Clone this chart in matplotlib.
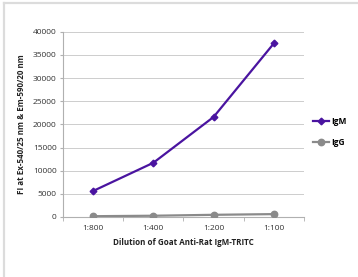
import matplotlib.pyplot as plt
import matplotlib
from matplotlib.lines import Line2D

matplotlib.rcParams['font.family'] = ['Open Sans', 'DejaVu Sans']

# 数据
dilutions = ['1:800', '1:400', '1:200', '1:100']
igm = [5600, 11700, 21600, 37500]
igg = [150, 250, 450, 600]

purple = '#4a14a0'
grey = '#8a8a8a'

fig = plt.figure(figsize=(3.58, 2.77), dpi=100)
fig.patch.set_facecolor('white')
ax = fig.add_axes([0.176, 0.217, 0.673, 0.668])

x = range(len(dilutions))
ax.plot(x, igm, color=purple, lw=1.6, marker='D', ms=3.4, label='IgM', zorder=3)
ax.plot(x, igg, color=grey, lw=1.6, marker='o', ms=4.6, label='IgG', zorder=3)

ax.set_xlim(-0.5, len(dilutions) - 0.5)
ax.set_ylim(0, 40000)
ax.set_yticks(range(0, 40001, 5000))
ax.set_xticks(list(x))
ax.set_xticklabels(dilutions)
ax.set_xticks([i + 0.5 for i in range(-1, len(dilutions))], minor=True)

ax.grid(axis='y', color='#cdcdcd', lw=0.7)
ax.set_axisbelow(True)
for s in ['top', 'right']:
    ax.spines[s].set_visible(False)
ax.spines['left'].set_color('#b0b0b0')
ax.spines['bottom'].set_color('#b0b0b0')
ax.spines['left'].set_linewidth(0.8)
ax.spines['bottom'].set_linewidth(0.8)

ax.tick_params(axis='y', labelsize=6, length=2.5, color='#b0b0b0', labelcolor='#333333', pad=2)
ax.tick_params(axis='x', which='major', length=0, labelsize=6, labelcolor='#333333', pad=6)
ax.tick_params(axis='x', which='minor', length=3, color='#b0b0b0')

ax.set_xlabel('Dilution of Goat Anti-Rat IgM-TRITC', fontsize=5.8, fontweight='bold',
              color='#222222', labelpad=4)
ax.set_ylabel('FI at Ex-540/25 nm & Em-590/20 nm', fontsize=5.8, fontweight='bold',
              color='#222222', labelpad=5)

fig.legend(loc='center left', bbox_to_anchor=(0.852, 0.523), frameon=False,
           handlelength=2.0, handletextpad=0.3, labelspacing=1.5,
           prop={'weight': 'bold', 'size': 6})

# 外框（上、左）
fig.add_artist(Line2D([0.011, 1.0], [0.989, 0.989], color='#dcdcdc', lw=1.6))
fig.add_artist(Line2D([0.011, 0.011], [0.0, 0.989], color='#dcdcdc', lw=1.6))

fig.savefig('out.png', dpi=100, facecolor='white')
